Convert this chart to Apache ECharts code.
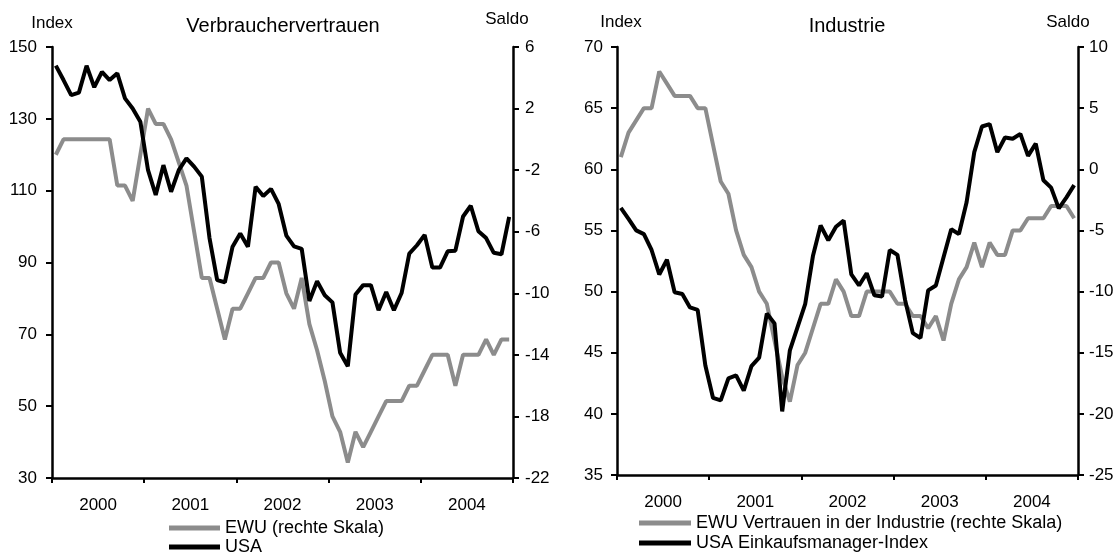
<!DOCTYPE html>
<html>
<head>
<meta charset="utf-8">
<script src="https://cdn.jsdelivr.net/npm/echarts@6/dist/echarts.min.js"></script>
<style>
html,body{margin:0;padding:0;background:#fff;}
#chart{width:1120px;height:555px;}
</style>
</head>
<body>
<div id="chart"></div>
<script>
// ---- data ----
const years = ['2000', '2001', '2002', '2003', '2004'];
const months = [];
years.forEach(function (y) { for (let m = 1; m <= 12; m++) months.push(y + '-' + (m < 10 ? '0' + m : m)); });

// Verbrauchervertrauen
const consumerEWU = [-1, 0, 0, 0, 0, 0, 0, 0, -3, -3, -4, -1, 2, 1, 1, 0, -1.5, -3, -6, -9, -9, -11, -13, -11, -11, -10, -9, -9, -8, -8, -10, -11, -9, -12, -13.7, -15.7, -18, -19, -21, -19, -20, -19, -18, -17, -17, -17, -16, -16, -15, -14, -14, -14, -16, -14, -14, -14, -13, -14, -13, -13];
const consumerUSA = [144.8, 140.8, 136.6, 137.3, 144.8, 138.8, 143.1, 140.8, 142.7, 135.7, 132.9, 129.2, 115.7, 108.8, 117.1, 109.7, 115.7, 119.0, 116.7, 113.9, 96.8, 85.1, 84.5, 94.4, 98.1, 94.4, 111.1, 108.5, 110.5, 106.3, 97.5, 94.5, 93.8, 79.3, 84.8, 80.9, 78.9, 64.9, 61.1, 81.1, 83.7, 83.7, 76.7, 81.8, 76.7, 81.5, 92.5, 94.8, 97.7, 88.6, 88.6, 93.1, 93.3, 102.8, 105.8, 98.7, 96.8, 92.7, 92.3, 102.7];

// Industrie
const industryEWU = [1, 3, 4, 5, 5, 8, 7, 6, 6, 6, 5, 5, 2, -1, -2, -5, -7, -8, -10, -11, -14, -17, -19, -16, -15, -13, -11, -11, -9, -10, -12, -12, -10, -10, -10, -10, -11, -11, -12, -12, -13, -12, -14, -11, -9, -8, -6, -8, -6, -7, -7, -5, -5, -4, -4, -4, -3, -3, -3, -4];
const industryUSA = [56.85, 55.95, 55.0, 54.7, 53.4, 51.4, 52.6, 49.95, 49.8, 48.7, 48.5, 43.95, 41.3, 41.1, 42.9, 43.15, 41.9, 43.9, 44.6, 48.2, 47.4, 40.2, 45.2, 47.1, 49.0, 52.9, 55.4, 54.2, 55.3, 55.8, 51.4, 50.5, 51.5, 49.7, 49.6, 53.4, 53.0, 49.3, 46.6, 46.2, 50.1, 50.5, 52.8, 55.1, 54.7, 57.3, 61.4, 63.5, 63.7, 61.4, 62.6, 62.5, 62.9, 61.1, 62.1, 59.1, 58.5, 56.8, 57.7, 58.7];

// axis ranges [min, max, step]
const consumerIndexRange = [30, 150, 20];
const consumerSaldoRange = [-22, 6, 4];
const industryIndexRange = [35, 70, 5];
const industrySaldoRange = [-25, 10, 5];

// ---- chart ----
const FONT = '"Liberation Sans", Arial, sans-serif';
const GREY = '#8c8c8c';
const chart = echarts.init(document.getElementById('chart'), null, { renderer: 'canvas' });

function monthAxis(gi) {
  return { type: 'category', gridIndex: gi, data: months, boundaryGap: true, show: false };
}
function yearAxis(gi) {
  return {
    type: 'category', gridIndex: gi, data: years, boundaryGap: true, position: 'bottom',
    axisLine: { show: true, lineStyle: { color: '#000', width: 2.5 } },
    axisTick: { show: true, length: 5, lineStyle: { color: '#000', width: 2 } },
    axisLabel: { color: '#000', fontSize: 17, fontFamily: FONT, margin: 19 },
    splitLine: { show: false }
  };
}
function valAxis(gi, r, pos, margin) {
  const ticks = [];
  for (let v = r[0]; v <= r[1] + 1e-9; v += r[2]) ticks.push(v);
  return {
    type: 'value', gridIndex: gi, position: pos, min: r[0], max: r[1], interval: r[2],
    axisLine: { show: true, onZero: false, lineStyle: { color: '#000', width: 2.5 } },
    axisTick: { show: true, length: 6, lineStyle: { color: '#000', width: 2 }, customValues: ticks },
    axisLabel: { color: '#000', fontSize: 17, fontFamily: FONT, margin: margin, customValues: ticks },
    splitLine: { show: false }
  };
}
function txt(x, y, s, size) {
  return { type: 'text', x: x, y: y, style: { text: s, fill: '#000', font: size + 'px ' + FONT, align: 'center', verticalAlign: 'middle' } };
}
function leg(name, left, top, w) {
  return {
    orient: 'horizontal', left: left, top: top, itemWidth: w, itemHeight: 5, icon: 'rect', padding: 0,
    textStyle: { fontSize: 18, fontFamily: FONT, color: '#000', lineHeight: 18 },
    data: [name], selectedMode: false
  };
}

const option = {
  animation: false,
  backgroundColor: '#fff',
  grid: [
    { left: 52, top: 47, width: 461, height: 431 },
    { left: 617, top: 47, width: 461, height: 428 }
  ],
  xAxis: [monthAxis(0), yearAxis(0), monthAxis(1), yearAxis(1)],
  yAxis: [
    valAxis(0, consumerIndexRange, 'left', 15),
    valAxis(0, consumerSaldoRange, 'right', 12),
    valAxis(1, industryIndexRange, 'left', 14),
    valAxis(1, industrySaldoRange, 'right', 11)
  ],
  legend: [
    leg('EWU (rechte Skala)', 169, 519, 51),
    leg('USA', 169, 538, 51),
    leg('EWU Vertrauen in der Industrie (rechte Skala)', 639, 514, 52),
    leg('USA Einkaufsmanager-Index', 639, 534, 52)
  ],
  graphic: [
    txt(52, 23, 'Index', 17),
    txt(283, 26, 'Verbrauchervertrauen', 20),
    txt(507, 19, 'Saldo', 17),
    txt(621, 22, 'Index', 17),
    txt(847, 26, 'Industrie', 20),
    txt(1068, 22, 'Saldo', 17)
  ],
  series: [
    { name: 'EWU (rechte Skala)', type: 'line', xAxisIndex: 0, yAxisIndex: 1, data: consumerEWU, showSymbol: false, symbol: 'none', lineStyle: { color: GREY, width: 4 }, itemStyle: { color: GREY } },
    { name: 'USA', type: 'line', xAxisIndex: 0, yAxisIndex: 0, data: consumerUSA, showSymbol: false, symbol: 'none', lineStyle: { color: '#000', width: 4 }, itemStyle: { color: '#000' } },
    { name: 'EWU Vertrauen in der Industrie (rechte Skala)', type: 'line', xAxisIndex: 2, yAxisIndex: 3, data: industryEWU, showSymbol: false, symbol: 'none', lineStyle: { color: GREY, width: 4 }, itemStyle: { color: GREY } },
    { name: 'USA Einkaufsmanager-Index', type: 'line', xAxisIndex: 2, yAxisIndex: 2, data: industryUSA, showSymbol: false, symbol: 'none', lineStyle: { color: '#000', width: 4 }, itemStyle: { color: '#000' } }
  ]
};
chart.setOption(option);
</script>
</body>
</html>
